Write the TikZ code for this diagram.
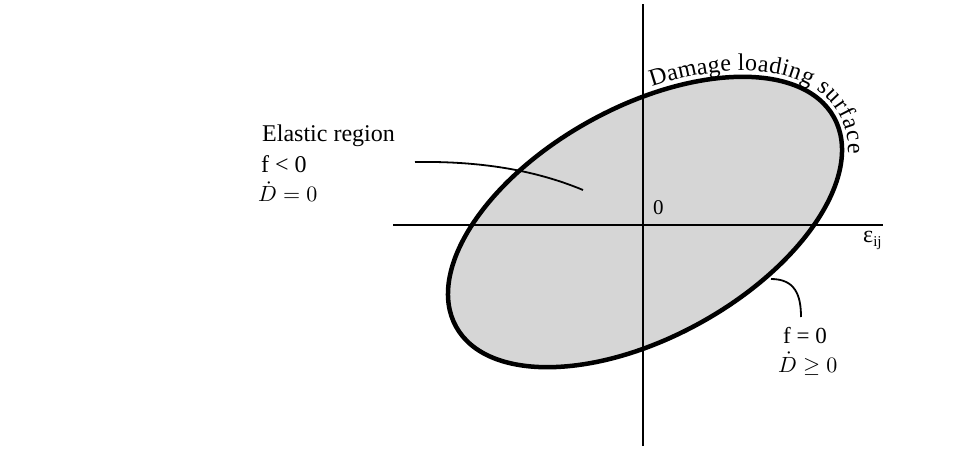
\documentclass[tikz,border=0pt]{standalone}
\usepackage{graphicx}
\usepackage{fix-cm}
\usepackage{fontspec}
\setmainfont{Liberation Serif}
\usetikzlibrary{decorations.text}
\newcommand{\bigmath}[1]{\scalebox{2.2}{$#1$}}
\tikzset{
  axisline/.style={line width=2pt},
  leader/.style={line width=1.8pt},
  surface/.style={line width=4.5pt, fill=black!16},
  lbl/.style={inner sep=0pt, anchor=base west, font=\fontsize{24}{29}\selectfont},
  tlbl/.style={inner sep=0pt, anchor=base west, font=\fontsize{23}{28}\selectfont},
  mlbl/.style={inner sep=0pt, anchor=base west, font=\fontsize{10}{12}\selectfont},
}
\begin{document}
\begin{tikzpicture}[x=1pt,y=1pt]
\useasboundingbox (0,0) rectangle (979,450);
% surface
\coordinate (C) at (645,228);
\draw[surface, rotate around={29:(C)}] (C) ellipse [x radius=216, y radius=115];
% axes
\coordinate (xl) at (393,225);
\coordinate (xr) at (883,225);
\coordinate (yb) at (643,4);
\coordinate (yt) at (643,446);
\draw[axisline] (xl) -- (xr);
\draw[axisline] (yb) -- (yt);
% text along surface
\begin{scope}[shift={(C)}, rotate=29]
\path[decorate, decoration={text along path, raise=6pt, text align=left,
  text={|\fontsize{24}{28}\selectfont|Damage loading surface}}]
  (71:216 and 115) arc [start angle=71, end angle=-30, x radius=216, y radius=115];
\end{scope}
% labels
\node[lbl] (er) at (262,308) {Elastic region};
\node[lbl] (fl) at (261,277) {f < 0};
\node[mlbl] (dl) at (258,248) {\bigmath{\dot D = 0}};
\node[inner sep=0pt, anchor=base west, font=\fontsize{21}{25}\selectfont] (zero) at (653,235) {0};
\node[inner sep=0pt, anchor=base west, font=\fontsize{24}{28}\selectfont] (eps) at (863,207) {ε\raisebox{-0.3ex}{\fontsize{15}{18}\selectfont ij}};
\node[tlbl] (f0) at (783,107) {f = 0};
\node[mlbl] (d0) at (778,78) {\bigmath{\dot D \geq 0}};
% leaders
\coordinate (l1s) at (415,288);
\coordinate (l1e) at (583,260);
\draw[leader] (l1s) .. controls (480,289) and (535,280) .. (l1e);
\coordinate (l2s) at (771,171);
\coordinate (l2e) at (801,133);
\draw[leader] (l2s) .. controls (795,171) and (801,155) .. (l2e);
\end{tikzpicture}
\end{document}
